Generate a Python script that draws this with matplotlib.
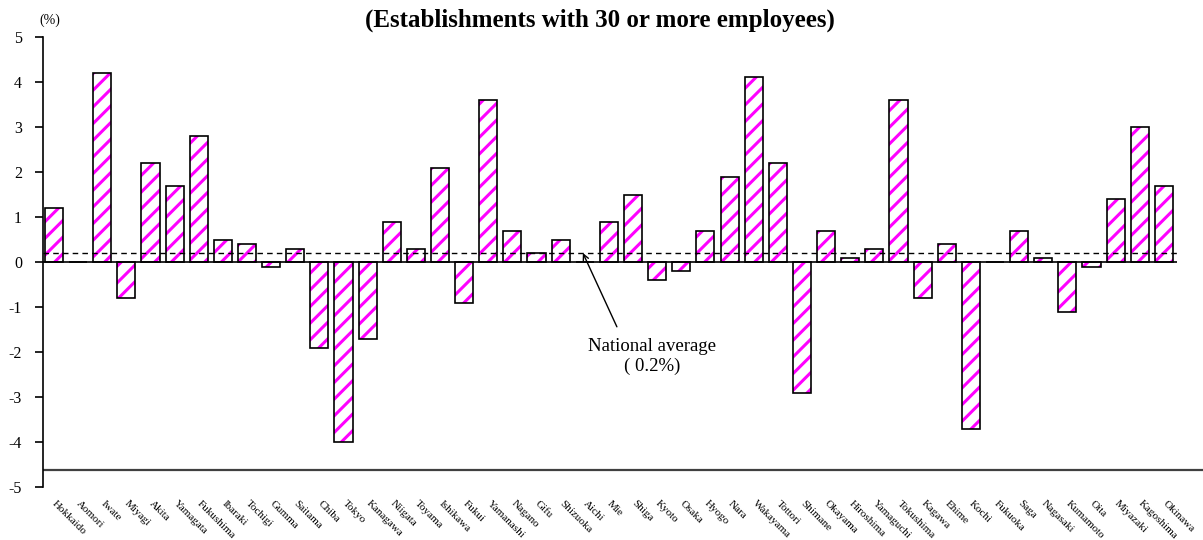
import matplotlib
matplotlib.use("Agg")
import matplotlib.pyplot as plt
import numpy as np

plt.rcParams["font.family"] = ["Liberation Serif", "DejaVu Serif"]
plt.rcParams["hatch.linewidth"] = 2.2
plt.rcParams["axes.unicode_minus"] = False

PREFECTURES = [
    "Hokkaido", "Aomori", "Iwate", "Miyagi", "Akita", "Yamagata", "Fukushima",
    "Ibaraki", "Tochigi", "Gumma", "Saitama", "Chiba", "Tokyo", "Kanagawa",
    "Niigata", "Toyama", "Ishikawa", "Fukui", "Yamanashi", "Nagano", "Gifu",
    "Shizuoka", "Aichi", "Mie", "Shiga", "Kyoto", "Osaka", "Hyogo", "Nara",
    "Wakayama", "Tottori", "Shimane", "Okayama", "Hiroshima", "Yamaguchi",
    "Tokushima", "Kagawa", "Ehime", "Kochi", "Fukuoka", "Saga", "Nagasaki",
    "Kumamoto", "Oita", "Miyazaki", "Kagoshima", "Okinawa",
]
CHANGE = [
    1.2, 0.0, 4.2, -0.8, 2.2, 1.7, 2.8,
    0.5, 0.4, -0.1, 0.3, -1.9, -4.0, -1.7,
    0.9, 0.3, 2.1, -0.9, 3.6, 0.7, 0.2,
    0.5, 0.0, 0.9, 1.5, -0.4, -0.2, 0.7, 1.9,
    4.1, 2.2, -2.9, 0.7, 0.1, 0.3,
    3.6, -0.8, 0.4, -3.7, 0.0, 0.7, 0.1,
    -1.1, -0.1, 1.4, 3.0, 1.7,
]
NATIONAL_AVG = 0.2

fig = plt.figure(figsize=(12.03, 5.4), dpi=100)
ax = fig.add_axes([0.0357, 0.0981, 0.9643, 0.8334])

x = np.arange(len(PREFECTURES))
# striped fill first, then a plain black outline on top
ax.bar(x, CHANGE, width=0.75, color="white", edgecolor="#ff00ff",
       hatch="//", linewidth=0, zorder=2)
ax.bar(x, CHANGE, width=0.75, fill=False, edgecolor="black",
       linewidth=1.2, zorder=3)

ax.hlines(0, -0.46, 46.55, color="black", linewidth=1.2, zorder=4)
ax.hlines(NATIONAL_AVG, -0.46, 46.6, color="black", linewidth=1.0,
          linestyles=(0, (4, 3)), zorder=5)
ax.axhline(-4.62, color="#404040", linewidth=1.6)

ax.set_xlim(-0.456, 47.62)
ax.set_ylim(-5, 5)
ax.set_yticks(np.arange(-5, 6, 1))
ax.tick_params(axis="y", direction="out", length=6, width=1.2,
               labelsize=11.5, pad=9)
ax.set_xticks(x)
ax.set_xticklabels(PREFECTURES, rotation=-45, rotation_mode="anchor",
                   ha="left", va="center", fontsize=8)
ax.tick_params(axis="x", length=0, pad=11)
for side in ("top", "right", "bottom"):
    ax.spines[side].set_visible(False)
ax.spines["left"].set_linewidth(1.2)

ax.annotate("", xy=(21.92, NATIONAL_AVG), xytext=(23.33, -1.44),
            arrowprops=dict(arrowstyle="->", color="black", lw=1.0,
                            shrinkA=0, shrinkB=0))
ax.text(24.8, -2.1, "National average\n( 0.2%)", ha="center", va="center",
        multialignment="center", fontsize=13.5, linespacing=1.25)

fig.text(0.0416, 0.963, "(%)", fontsize=10, ha="center", va="center")
fig.text(0.3034, 0.963, "(Establishments with 30 or more employees)",
         fontsize=18, fontweight="bold", ha="left", va="center")

fig.savefig("out.png", dpi=100)
